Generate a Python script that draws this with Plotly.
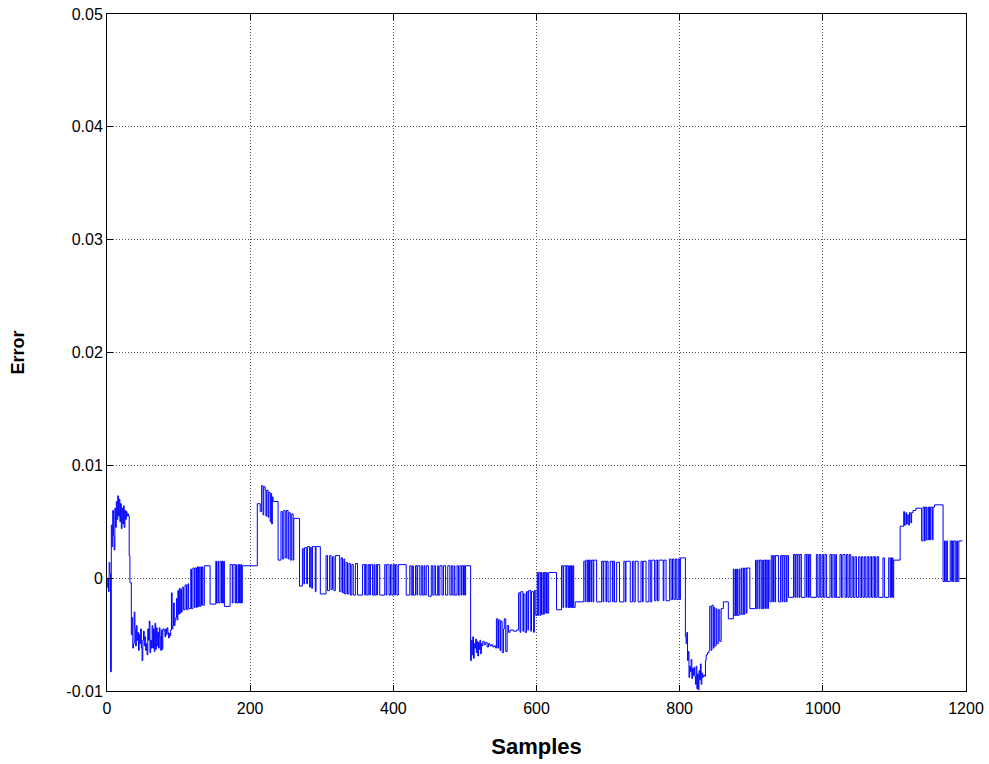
import plotly.graph_objects as go

# (sample, error) change points, step-wise
SEG_START = [(0,-0.0008),(1,0.0),(2,-0.0012),(3,0.0014),(4,0.0004),(5,-0.0083),(6,0.0047),(7,0.0028),(8,0.006),(9,0.0038),
             (10,0.0025),(11,0.0062),(12,0.0045),(13,0.0068),(14,0.0052),(15,0.0073),(16,0.0055),(17,0.0070),(18,0.0050),
             (19,0.0066),(20,0.0044),(21,0.0062),(22,0.0048),(23,0.0064),(24,0.0045),(25,0.0060),(26,0.0052),(27,0.0059),
             (28,0.0055),(29,0.0057),(30,0.0055),(31,0.0020),(32,-0.0004)]
SEG_DIP1 = [(33,-0.0004),(34,-0.005),(35,-0.0035),(36,-0.0062),(37,-0.0058),(38,-0.003),(39,-0.0045),(40,-0.006),(41,-0.0042),
            (42,-0.0055),(43,-0.0048),(44,-0.0064),(45,-0.005),(46,-0.0058),(47,-0.0045),(48,-0.0062),(49,-0.0073),(50,-0.0055),
            (51,-0.0047),(52,-0.006),(53,-0.0052),(54,-0.0064),(55,-0.0058),(56,-0.0068),(57,-0.0045),(58,-0.0055),(59,-0.0038),
            (60,-0.0066),(61,-0.0055),(62,-0.0062),(63,-0.0042),(64,-0.0062),(65,-0.0045),(66,-0.0065),(67,-0.004),(68,-0.0063),
            (69,-0.0044),(70,-0.006),(71,-0.0048),(72,-0.0062),(73,-0.0044),(74,-0.0052),(75,-0.0064),(76,-0.0046),(77,-0.0063),
            (78,-0.0045),(80,-0.0047),(81,-0.0052),(82,-0.0045),(83,-0.005),(84,-0.0044),(85,-0.0048),(86,-0.0053),(87,-0.0049),
            (88,-0.0051),(89,-0.0046),(90,-0.0013),(91,-0.0045),(92,-0.0042),(93,-0.0022),(94,-0.0042),(95,-0.0038),(96,-0.0035),
            (97,-0.0018),(98,-0.0037),(99,-0.0011),(100,-0.0032),(101,-0.0009),(102,-0.0031),(103,-0.001),(104,-0.003),
            (105,-0.0008),(107,-0.0028)]
SEG_SW1 = [(109,-0.0006),(111,-0.0028),(113,-0.0005),(114,-0.0027),(117,0.0008),(118,-0.0027),(120,0.0009),(122,-0.0026),
           (123,0.0009),(125,-0.0026),(126,0.001),(127,-0.0025),(128,0.001),(129,-0.0025),(131,0.001),(132,-0.0024),(133,0.001),
           (134,-0.0024),(136,0.0011),(144,-0.0023),(152,0.0015),(153,-0.0022),(155,0.0015),(156,-0.0022),(158,0.0015),
           (160,-0.0022),(161,0.0015),(162,-0.0022),(163,0.0015),(164,-0.0025),(172,0.0012),(175,-0.0022),(176,0.0012),
           (179,-0.0022),(180,0.0012),(181,-0.0022),(183,0.0012),(184,-0.0022),(185,0.0012),(186,-0.0022),(187,0.0012),
           (188,-0.0022),(189,0.0011)]
SEG_UP1 = [(210,0.0066),(214,0.0059),(216,0.0082),(218,0.0056),(219,0.0081),(221,0.0078),(222,0.0055),(223,0.0078),(225,0.0054),
           (226,0.0076),(228,0.005),(229,0.0075),(230,0.0048),(231,0.0072),(232,0.0068),(239,0.0016),(243,0.0059),(245,0.0017),
           (247,0.006),(249,0.0018),(251,0.006),(253,0.0017),(254,0.0058),(256,0.0016),(258,0.0057),(260,0.0016),(261,0.0053),
           (269,-0.0007)]
SEG_SW2 = [(273,0.0026),(275,-0.0005),(276,0.0027),(279,-0.0005),(280,0.0028),(283,-0.0008),(284,0.0027),(286,-0.0009),
           (287,0.0028),(291,-0.0012),(292,0.0028),(298,-0.0014),(306,0.002),(308,-0.0011),(311,0.002),(313,-0.001),(315,0.0019),
           (317,-0.0011),(319,0.002),(325,-0.0012),(327,0.0018),(329,-0.0013),(331,0.0017),(332,-0.0014)]
SEG_SW3 = [(334,0.0014),(336,-0.0014),(338,0.0013),(340,-0.0015),(342,0.0012),(344,-0.0015),(347,0.0013),(350,-0.0015),
           (357,0.0012),(360,-0.0015),(361,0.0012),(363,-0.0015),(365,0.0012),(367,-0.0015),(368,0.0012),(371,-0.0015),
           (373,0.0012),(374,-0.0015),(376,0.0012),(377,-0.0015),(378,0.0012),(381,-0.0015),(388,0.0012),(390,-0.0015),
           (391,0.0012),(394,-0.0015),(396,0.0012),(398,-0.0015),(400,0.0012),(402,-0.0015),(403,0.0012),(405,-0.0015),
           (407,0.0012),(418,-0.0015),(423,0.0011),(425,-0.0015),(427,0.0011),(428,-0.0015),(431,0.0011),(433,-0.0015),
           (434,0.0011),(437,-0.0015),(439,0.0011),(441,-0.0015),(443,0.0011),(444,-0.0015),(446,0.0011),(449,-0.0016),
           (453,0.0011),(455,-0.0015),(457,0.0011),(459,-0.0015),(462,0.0011),(463,-0.0015),(465,0.0011),(468,-0.0015),
           (470,0.0011),(473,-0.0015),(476,0.0011),(479,-0.0015),(481,0.0011),(483,-0.0015),(485,0.0011),(486,-0.0015),
           (489,0.0011),(491,-0.0015),(493,0.0011),(495,-0.0015),(496,0.0011),(498,-0.0015),(499,0.0011),(500,-0.0015),
           (501,0.0011)]
SEG_DIP2 = [(508,-0.0073),(509,-0.0055),(510,-0.0068),(511,-0.0052),(512,-0.0071),(513,-0.0058),(514,-0.0062),(515,-0.0054),
            (516,-0.0066),(517,-0.0056),(518,-0.0069),(519,-0.0057),(520,-0.0063),(521,-0.0055),(522,-0.0067),(523,-0.0058),
            (524,-0.006),(525,-0.0056),(527,-0.0059),(529,-0.0057),(531,-0.0061),(533,-0.0058),(535,-0.006),(537,-0.0059),
            (539,-0.0061),(541,-0.006),(543,-0.0062),(544,-0.0036),(546,-0.0062),(547,-0.0037),(549,-0.0064),(550,-0.0038),
            (552,-0.0066),(554,-0.0045),(555,-0.0036),(557,-0.0065),(559,-0.0042),(561,-0.0048),(563,-0.0046),(568,-0.0047),
            (572,-0.0046),(575,-0.0013),(577,-0.0048),(578,-0.0012),(581,-0.0047),(582,-0.0014),(584,-0.0048),(586,-0.0012),
            (588,-0.0046),(589,-0.0011),(592,-0.0047),(593,-0.0012),(596,-0.0048),(597,-0.0011)]
SEG_SW4 = [(599,-0.0033),(601,0.0005),(602,-0.0033),(603,0.0005),(605,-0.0033),(606,0.0005),(607,-0.0032),(609,0.0005),
           (610,-0.0032),(611,0.0005),(613,-0.0031),(614,0.0005),(615,-0.0031),(617,0.0005),(628,-0.0028),(635,0.0011),
           (637,-0.0026),(638,0.0011),(641,-0.0026),(642,0.0011),(644,-0.0026),(645,0.0011),(646,-0.0026),(647,0.0011),
           (648,-0.0026),(649,0.0011),(650,-0.0026),(651,0.0011),(652,-0.0026),(654,-0.0021),(666,0.0015),(668,-0.0021),
           (669,0.0016),(671,-0.0021),(672,0.0016),(673,-0.0021),(674,0.0016),(676,-0.0021),(677,0.0016),(679,-0.0021),
           (680,0.0016),(684,-0.0021),(691,0.0015),(693,-0.0021),(694,0.0015),(697,-0.0021),(698,0.0015),(700,-0.0021),
           (703,0.0015),(706,-0.0021),(707,0.0015),(709,-0.0021),(712,0.0014),(716,-0.0021),(722,0.0015),(724,-0.0021),
           (725,0.0015),(731,-0.0021),(734,0.0015),(736,-0.0021),(738,0.0015),(742,-0.0021),(746,0.0015),(748,-0.0021),
           (749,0.0015),(753,-0.0021),(757,0.0016),(759,-0.0021),(761,0.0016),(765,-0.0020),(767,0.0016),(769,-0.0020),
           (771,0.0016),(777,-0.002),(778,0.0016),(781,-0.0020),(786,0.0017),(788,-0.0019),(790,0.0017),(792,-0.0019),
           (794,0.0017),(796,-0.0019),(798,0.0017),(800,-0.0019),(801,0.0018)]
SEG_DIP3 = [(808,-0.0052),(809,-0.0058),(810,-0.0048),(811,-0.0073),(812,-0.0065),(813,-0.0088),(814,-0.0078),(815,-0.0083),
            (816,-0.0072),(817,-0.0089),(818,-0.008),(819,-0.0086),(820,-0.0079),(821,-0.0087),(822,-0.0094),(823,-0.0078),
            (824,-0.0098),(825,-0.0085),(826,-0.0099),(827,-0.0082),(828,-0.009),(829,-0.0076),(830,-0.0094),(831,-0.0084),
            (832,-0.0088),(833,-0.0086),(835,-0.0087),(836,-0.0073),(837,-0.0068),(839,-0.0066),(841,-0.0064),(842,-0.0025),
            (844,-0.0064),(845,-0.0024),(847,-0.0062),(848,-0.0026),(849,-0.006),(851,-0.0027),(852,-0.0058),(854,-0.0028),
            (856,-0.0056),(858,-0.0027),(861,-0.0021),(868,-0.0036)]
SEG_SW5 = [(875,0.0008),(876,-0.0033),(878,0.0008),(879,-0.0033),(880,0.0008),(881,-0.0033),(883,0.0008),(884,-0.0032),
           (886,0.0009),(887,-0.0032),(889,0.0009),(890,-0.0032),(891,0.0009),(893,-0.0031),(894,0.0009),(898,-0.0027),
           (906,0.0016),(907,-0.0027),(909,0.0016),(911,-0.0027),(912,0.0016),(914,-0.0027),(916,0.0016),(917,-0.0027),
           (918,0.0016),(920,-0.0027),(921,0.0016),(923,-0.0027),(924,0.0016),(926,-0.0021),(928,0.002),(930,-0.0021),
           (931,0.002),(933,-0.0021),(934,0.002),(938,-0.0021),(941,0.002),(943,-0.0021),(944,0.002),(946,-0.0021),
           (947,0.002),(949,-0.0021),(950,0.002),(952,-0.0017),(959,0.0021),(961,-0.0017),(962,0.0021),(964,-0.0017),
           (965,0.0021),(967,-0.0017),(968,0.0021),(970,-0.0017),(975,0.0021),(977,-0.0017),(978,0.0021),(980,-0.0017),
           (981,0.0021),(983,-0.0017),(991,0.0021),(993,-0.0017),(995,0.0021),(997,-0.0017),(999,0.0021),(1001,-0.0017),
           (1003,0.0021),(1005,-0.0017),(1010,0.0021),(1012,-0.0017),(1014,0.0021),(1016,-0.0017),(1018,0.0021),
           (1019,-0.0017),(1024,0.0021),(1026,-0.0017),(1028,0.0021),(1031,-0.0017),(1033,0.0021),(1035,-0.0017),
           (1037,0.0021),(1039,-0.0017),(1041,0.0019),(1043,-0.0017),(1045,0.0019),(1047,-0.0017),(1050,0.0019),
           (1052,-0.0017),(1054,0.0019),(1056,-0.0017),(1058,0.0019),(1060,-0.0017),(1062,0.0019),(1064,-0.0017),
           (1066,0.0019),(1068,-0.0017),(1070,0.0019),(1072,-0.0017),(1073,0.0019),(1074,-0.0017),(1076,0.0019),
           (1078,-0.0017),(1084,0.0018),(1086,-0.0017),(1092,0.0018),(1094,-0.0017),(1095,0.0018),(1096,-0.0017),
           (1097,0.0018),(1098,-0.0017),(1099,0.0016)]
SEG_END = [(1108,0.0046),(1113,0.0059),(1114,0.0047),(1116,0.0058),(1117,0.0048),(1118,0.0056),(1120,0.0047),(1121,0.0058),
           (1123,0.0049),(1124,0.0058),(1126,0.006),(1130,0.0062),(1138,0.0033),(1140,0.0063),(1142,0.0033),(1143,0.0063),
           (1145,0.0034),(1147,0.0063),(1148,0.0034),(1149,0.0063),(1150,0.0034),(1151,0.0063),(1153,0.0034),(1154,0.0063),
           (1156,0.0065),(1168,-0.0003),(1170,0.0033),(1171,-0.0003),(1173,0.0033),(1174,-0.0003),(1178,0.0033),
           (1180,-0.0003),(1181,0.0033),(1182,-0.0003),(1183,0.0033),(1185,-0.0003),(1187,0.0033),(1188,-0.0003),
           (1190,0.0033),(1195,0.0033)]

X_TICKS = [0, 200, 400, 600, 800, 1000, 1200]
Y_TICKS = [-0.01, 0, 0.01, 0.02, 0.03, 0.04, 0.05]
Y_TICK_TEXT = ["-0.01", "0", "0.01", "0.02", "0.03", "0.04", "0.05"]

points = (SEG_START + SEG_DIP1 + SEG_SW1 + SEG_UP1 + SEG_SW2 + SEG_SW3 + SEG_DIP2
          + SEG_SW4 + SEG_DIP3 + SEG_SW5 + SEG_END)
samples = [p[0] for p in points]
error = [p[1] for p in points]

fig = go.Figure()
fig.add_trace(go.Scatter(x=samples, y=error, mode="lines",
                         line=dict(color="#0000ff", width=1, shape="hv"),
                         showlegend=False))

FAMILY = "Liberation Sans, Arial, sans-serif"
font = dict(family=FAMILY, size=16, color="black")
axis_common = dict(showline=True, linecolor="black", linewidth=1, mirror="allticks",
                   ticks="inside", ticklen=6, tickcolor="black", automargin=False,
                   showgrid=True, gridcolor="#555555", griddash="1px,2px", gridwidth=1,
                   zeroline=False, tickfont=font)

fig.update_xaxes(range=[0, 1200], tickvals=X_TICKS, ticklabelstandoff=3,
                 title=dict(text="<b>Samples</b>", font=dict(family=FAMILY, size=22, color="black"), standoff=22),
                 **axis_common)
fig.update_yaxes(range=[-0.01, 0.05], tickvals=Y_TICKS, ticktext=Y_TICK_TEXT,
                 title=dict(text="<b>Error</b>", font=dict(family=FAMILY, size=18, color="black"), standoff=37),
                 **axis_common)

fig.update_layout(width=989, height=764, autosize=False, paper_bgcolor="white", plot_bgcolor="white",
                  margin=dict(l=107, r=23, t=14, b=73, pad=0), font=font)

fig.write_html("out.html")
